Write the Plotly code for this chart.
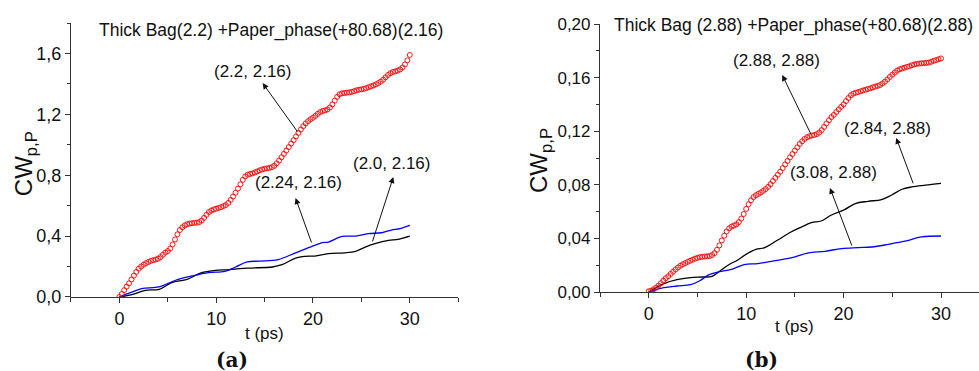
import plotly.graph_objects as go

# ---- panel (a): Thick Bag (2.2) + Paper phase (2.16) ----
t_red_a = [i * 0.25 for i in range(121)]
cw_red_a = [
    0.000, 0.020, 0.045, 0.068, 0.090, 0.115, 0.140, 0.165, 0.186, 0.200,
    0.212, 0.222, 0.230, 0.237, 0.242, 0.246, 0.252, 0.262, 0.278, 0.292,
    0.302, 0.318, 0.345, 0.378, 0.412, 0.440, 0.458, 0.470, 0.478, 0.482,
    0.485, 0.487, 0.488, 0.492, 0.502, 0.520, 0.540, 0.558, 0.568, 0.575,
    0.580, 0.585, 0.590, 0.597, 0.604, 0.618, 0.638, 0.660, 0.685, 0.712,
    0.740, 0.770, 0.792, 0.803, 0.808, 0.812, 0.818, 0.825, 0.832, 0.838,
    0.842, 0.845, 0.848, 0.853, 0.862, 0.878, 0.897, 0.918, 0.940, 0.962,
    0.985, 1.008, 1.030, 1.055, 1.078, 1.100, 1.122, 1.140, 1.155, 1.168,
    1.178, 1.190, 1.203, 1.215, 1.222, 1.226, 1.232, 1.245, 1.265, 1.290,
    1.315, 1.332, 1.338, 1.340, 1.342, 1.344, 1.347, 1.352, 1.358, 1.362,
    1.364, 1.367, 1.372, 1.378, 1.384, 1.390, 1.397, 1.405, 1.415, 1.428,
    1.443, 1.458, 1.470, 1.478, 1.482, 1.487, 1.495, 1.508, 1.528, 1.555,
    1.590,
]
t_blue_a = [0, 1.0, 2.3, 4.1, 5.8, 7.5, 9.2, 10.9, 12.0, 13.2, 14.5, 16.4,
            18.2, 19.9, 21.0, 21.6, 23.0, 24.4, 25.7, 27.1, 28.1, 29.0, 30.0]
cw_blue_a = [0, 0.025, 0.055, 0.066, 0.110, 0.138, 0.160, 0.168, 0.197, 0.230,
             0.236, 0.245, 0.290, 0.333, 0.357, 0.361, 0.398, 0.400, 0.416,
             0.422, 0.440, 0.449, 0.470]
t_black_a = [0, 1.3, 2.7, 4.1, 5.4, 7.0, 8.5, 9.9, 11.3, 13.3, 15.8, 16.8,
             18.2, 19.2, 20.2, 21.6, 23.3, 24.4, 25.4, 26.4, 27.8, 28.8, 30.0]
cw_black_a = [0, 0.015, 0.044, 0.050, 0.094, 0.116, 0.160, 0.175, 0.180, 0.190,
              0.197, 0.212, 0.256, 0.267, 0.269, 0.285, 0.290, 0.300, 0.328,
              0.350, 0.372, 0.379, 0.400]

# ---- panel (b): Thick Bag (2.88) + Paper phase (2.88) ----
t_red_b = [i * 0.25 for i in range(121)]
cw_red_b = [
    0.0005, 0.0010, 0.0020, 0.0033, 0.0048, 0.0066, 0.0085, 0.0103, 0.0118, 0.0135,
    0.0152, 0.0168, 0.0183, 0.0196, 0.0207, 0.0216, 0.0225, 0.0233, 0.0241, 0.0249,
    0.0255, 0.0260, 0.0263, 0.0265, 0.0266, 0.0268, 0.0276, 0.0290, 0.0315, 0.0348,
    0.0385, 0.0420, 0.0452, 0.0475, 0.0488, 0.0496, 0.0505, 0.0522, 0.0548, 0.0582,
    0.0620, 0.0655, 0.0685, 0.0708, 0.0722, 0.0732, 0.0742, 0.0755, 0.0768, 0.0785,
    0.0805, 0.0828, 0.0852, 0.0875, 0.0898, 0.0925, 0.0952, 0.0978, 0.1005, 0.1030,
    0.1055, 0.1080, 0.1105, 0.1125, 0.1142, 0.1155, 0.1163, 0.1168, 0.1172, 0.1178,
    0.1190, 0.1208, 0.1232, 0.1258, 0.1282, 0.1305, 0.1322, 0.1343, 0.1363, 0.1382,
    0.1400, 0.1425, 0.1448, 0.1468, 0.1481, 0.1487, 0.1492, 0.1498, 0.1504, 0.1510,
    0.1515, 0.1520, 0.1527, 0.1533, 0.1538, 0.1545, 0.1556, 0.1570, 0.1587, 0.1605,
    0.1622, 0.1638, 0.1652, 0.1662, 0.1668, 0.1674, 0.1680, 0.1685, 0.1692, 0.1698,
    0.1702, 0.1705, 0.1707, 0.1708, 0.1710, 0.1712, 0.1718, 0.1725, 0.1731, 0.1737,
    0.1743,
]
t_black_b = [0, 1.55, 2.9, 4.3, 5.5, 6.5, 7.4, 8.3, 9.1, 10.1, 11.0, 11.9, 13.2,
             14.6, 15.7, 16.7, 17.7, 18.7, 20.1, 21.2, 22.5, 23.9, 24.9, 26.0,
             27.0, 28.4, 30.0]
cw_black_b = [0, 0.0062, 0.0092, 0.0107, 0.0112, 0.0117, 0.0162, 0.0207, 0.0237,
              0.0286, 0.0319, 0.0331, 0.0386, 0.0448, 0.0486, 0.0518, 0.0530,
              0.0573, 0.0615, 0.0660, 0.0677, 0.0690, 0.0722, 0.0767, 0.0784,
              0.0797, 0.0810]
t_blue_b = [0, 1.55, 2.9, 4.3, 5.2, 6.2, 7.4, 8.4, 9.8, 11.2, 12.6, 14.6, 16.3,
            18.1, 19.8, 21.5, 22.9, 24.6, 26.3, 28.0, 30.0]
cw_blue_b = [0, 0.0032, 0.0045, 0.0055, 0.0082, 0.0130, 0.0154, 0.0167, 0.0204,
             0.0212, 0.0229, 0.0254, 0.0291, 0.0304, 0.0324, 0.0331, 0.0336,
             0.0356, 0.0379, 0.0411, 0.0418]

FONT = "Liberation Sans, Arial, sans-serif"
AXC = "#333333"

fig = go.Figure()


def line_trace(x, y, color, xa, ya):
    return go.Scatter(x=x, y=y, mode="lines", line_shape="spline",
                      line=dict(color=color, width=1.3), xaxis=xa, yaxis=ya)


def ring_trace(x, y, xa, ya):
    return go.Scatter(x=x, y=y, mode="markers",
                      marker=dict(symbol="circle-open", size=5, color="#ff0000",
                                  line=dict(width=0.9, color="#ff0000")),
                      xaxis=xa, yaxis=ya)


fig.add_trace(line_trace(t_black_a, cw_black_a, "black", "x", "y"))
fig.add_trace(line_trace(t_blue_a, cw_blue_a, "#0000ff", "x", "y"))
fig.add_trace(ring_trace(t_red_a, cw_red_a, "x", "y"))
fig.add_trace(line_trace(t_black_b, cw_black_b, "black", "x2", "y2"))
fig.add_trace(line_trace(t_blue_b, cw_blue_b, "#0000ff", "x2", "y2"))
fig.add_trace(ring_trace(t_red_b, cw_red_b, "x2", "y2"))


def xaxis(domain, rng, anchor):
    return dict(domain=domain, range=rng, anchor=anchor, showgrid=False, zeroline=False,
                automargin=False,
                showline=True, linecolor=AXC, linewidth=1.2, ticks="outside", ticklen=5,
                tickcolor=AXC, tick0=0, dtick=10,
                minor=dict(dtick=5, tick0=0, ticks="outside", ticklen=4, tickcolor=AXC),
                tickfont=dict(family=FONT, size=18, color="#111"))


def yaxis(domain, rng, anchor, dtick, fmt, size):
    return dict(domain=domain, range=rng, anchor=anchor, showgrid=False, zeroline=False,
                automargin=False,
                showline=True, linecolor=AXC, linewidth=1.2, ticks="outside", ticklen=5,
                tickcolor=AXC, tick0=0, dtick=dtick, tickformat=fmt,
                minor=dict(dtick=dtick / 2, tick0=0, ticks="outside", ticklen=3, tickcolor=AXC),
                tickfont=dict(family=FONT, size=size, color="#111"))


fig.update_layout(
    width=979, height=371, margin=dict(l=0, r=0, t=0, b=0, autoexpand=False),
    paper_bgcolor="white", plot_bgcolor="white", showlegend=False,
    separators=",.",
    xaxis=xaxis([0.0725, 0.468], [-5, 35], "y"),
    yaxis=yaxis([0.1995, 0.938], [0, 1.8], "x", 0.4, ".1f", 18),
    xaxis2=xaxis([0.6129, 1.0], [-5, 33.9], "y2"),
    yaxis2=yaxis([0.2129, 0.9353], [0, 0.2], "x2", 0.04, ".2f", 17),
)

ann = []


def text(x, y, s, xref="paper", yref="paper", size=17, **kw):
    ann.append(dict(x=x, y=y, xref=xref, yref=yref, text=s, showarrow=False,
                    xanchor="center", yanchor="middle",
                    font=dict(family=FONT, size=size, color="#111"), **kw))


def arrow(head, tail, xr, yr):
    ann.append(dict(x=head[0], y=head[1], ax=tail[0], ay=tail[1], xref=xr, yref=yr,
                    axref=xr, ayref=yr, text="", showarrow=True, arrowhead=2,
                    arrowsize=1.2, arrowwidth=1, arrowcolor="#111", standoff=0,
                    startstandoff=0))


# panel titles
text(0.2768, 0.919, "Thick Bag(2.2) +Paper_phase(+80.68)(2.16)", size=17.5)
text(0.811, 0.930, "Thick Bag (2.88) +Paper_phase(+80.68)(2.88)", size=17.5)

# axis titles
for xp, yp in [(0.0255, 0.56), (0.5516, 0.566)]:
    text(xp, yp, "CW<sub>p,P</sub>", size=24, textangle=-90)
text(0.2697, 0.1024, "t (ps)", size=17)
text(0.812, 0.1186, "t (ps)", size=17)

# panel captions
for xp, s in [(0.237, "<b>(a)</b>"), (0.778, "<b>(b)</b>")]:
    ann.append(dict(x=xp, y=0.03, xref="paper", yref="paper", text=s, showarrow=False,
                    xanchor="center", yanchor="middle",
                    font=dict(family="DejaVu Serif, Liberation Serif, serif", size=20,
                              color="#111")))

# curve labels, panel (a)
text(13.84, 1.484, "(2.2, 2.16)", "x", "y")
text(18.49, 0.749, "(2.24, 2.16)", "x", "y")
text(28.2, 0.88, "(2.0, 2.16)", "x", "y")
arrow((14.8, 1.405), (18.5, 1.077), "x", "y")
arrow((18.2, 0.65), (19.9, 0.348), "x", "y")
arrow((28.3, 0.788), (26.1, 0.355), "x", "y")

# curve labels, panel (b)
text(13.1, 0.1726, "(2.88, 2.88)", "x2", "y2")
text(24.5, 0.1218, "(2.84, 2.88)", "x2", "y2")
text(19.0, 0.0889, "(3.08, 2.88)", "x2", "y2")
arrow((13.7, 0.162), (16.7, 0.117), "x2", "y2")
arrow((25.4, 0.115), (27.2, 0.080), "x2", "y2")
arrow((18.6, 0.0777), (20.9, 0.0336), "x2", "y2")

fig.update_layout(annotations=ann)
fig.write_html("out.html")
